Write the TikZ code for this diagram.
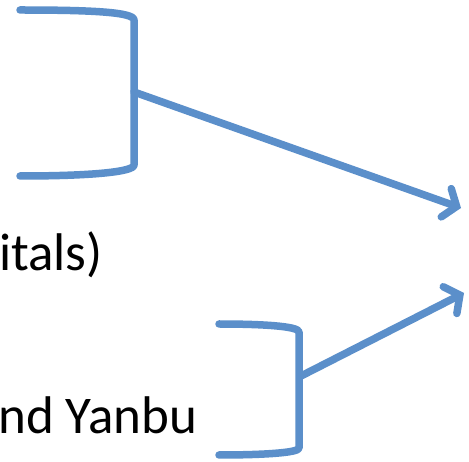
\documentclass[tikz,border=0pt]{standalone}
\usepackage{fontspec}
\setmainfont{Carlito}
\usetikzlibrary{arrows.meta, positioning}
\usepackage{xcolor}
\definecolor{BraceBlue}{HTML}{5B8FCA}
\tikzset{
    % Bracket and arrow styles
    bracket/.style={
        draw=BraceBlue,
        line width=7.5pt,
        line cap=round,
        line join=round
    },
    arrow/.style={
        -{Straight Barb[length=11pt,width=30pt,line cap=round]},
        draw=BraceBlue,
        line width=7.5pt,
        line cap=round
    },
    label/.style={
        font=\fontsize{53}{60}\selectfont,
        inner sep=0pt,
        anchor=base west
    }
}
\begin{document}
\begin{tikzpicture}[x=1pt, y=-1pt]
    \useasboundingbox (0,0) rectangle (469,462);

    % Upper bracket
    \draw[bracket] (20,10) .. controls (90,10) and (134,12) .. (134,20)
        -- (134,165) .. controls (134,172) and (90,176) .. (20,176);
    \coordinate (b1) at (134,92);

    % Lower bracket
    \draw[bracket] (219,324) .. controls (260,324) and (299,326) .. (299,332)
        -- (299,448) .. controls (299,453) and (260,455) .. (219,455);
    \coordinate (b2) at (301,376);

    % Texts
    \node[label] (hosp) at (-1,271) {itals)};
    \node[label] (yanbu) at (-2,434) {nd Yanbu};

    % Arrows
    \coordinate (t1) at (461,208);
    \coordinate (t2) at (464,293);
    \draw[arrow] (b1) -- (t1);
    \draw[arrow] (b2) -- (t2);
\end{tikzpicture}
\end{document}
